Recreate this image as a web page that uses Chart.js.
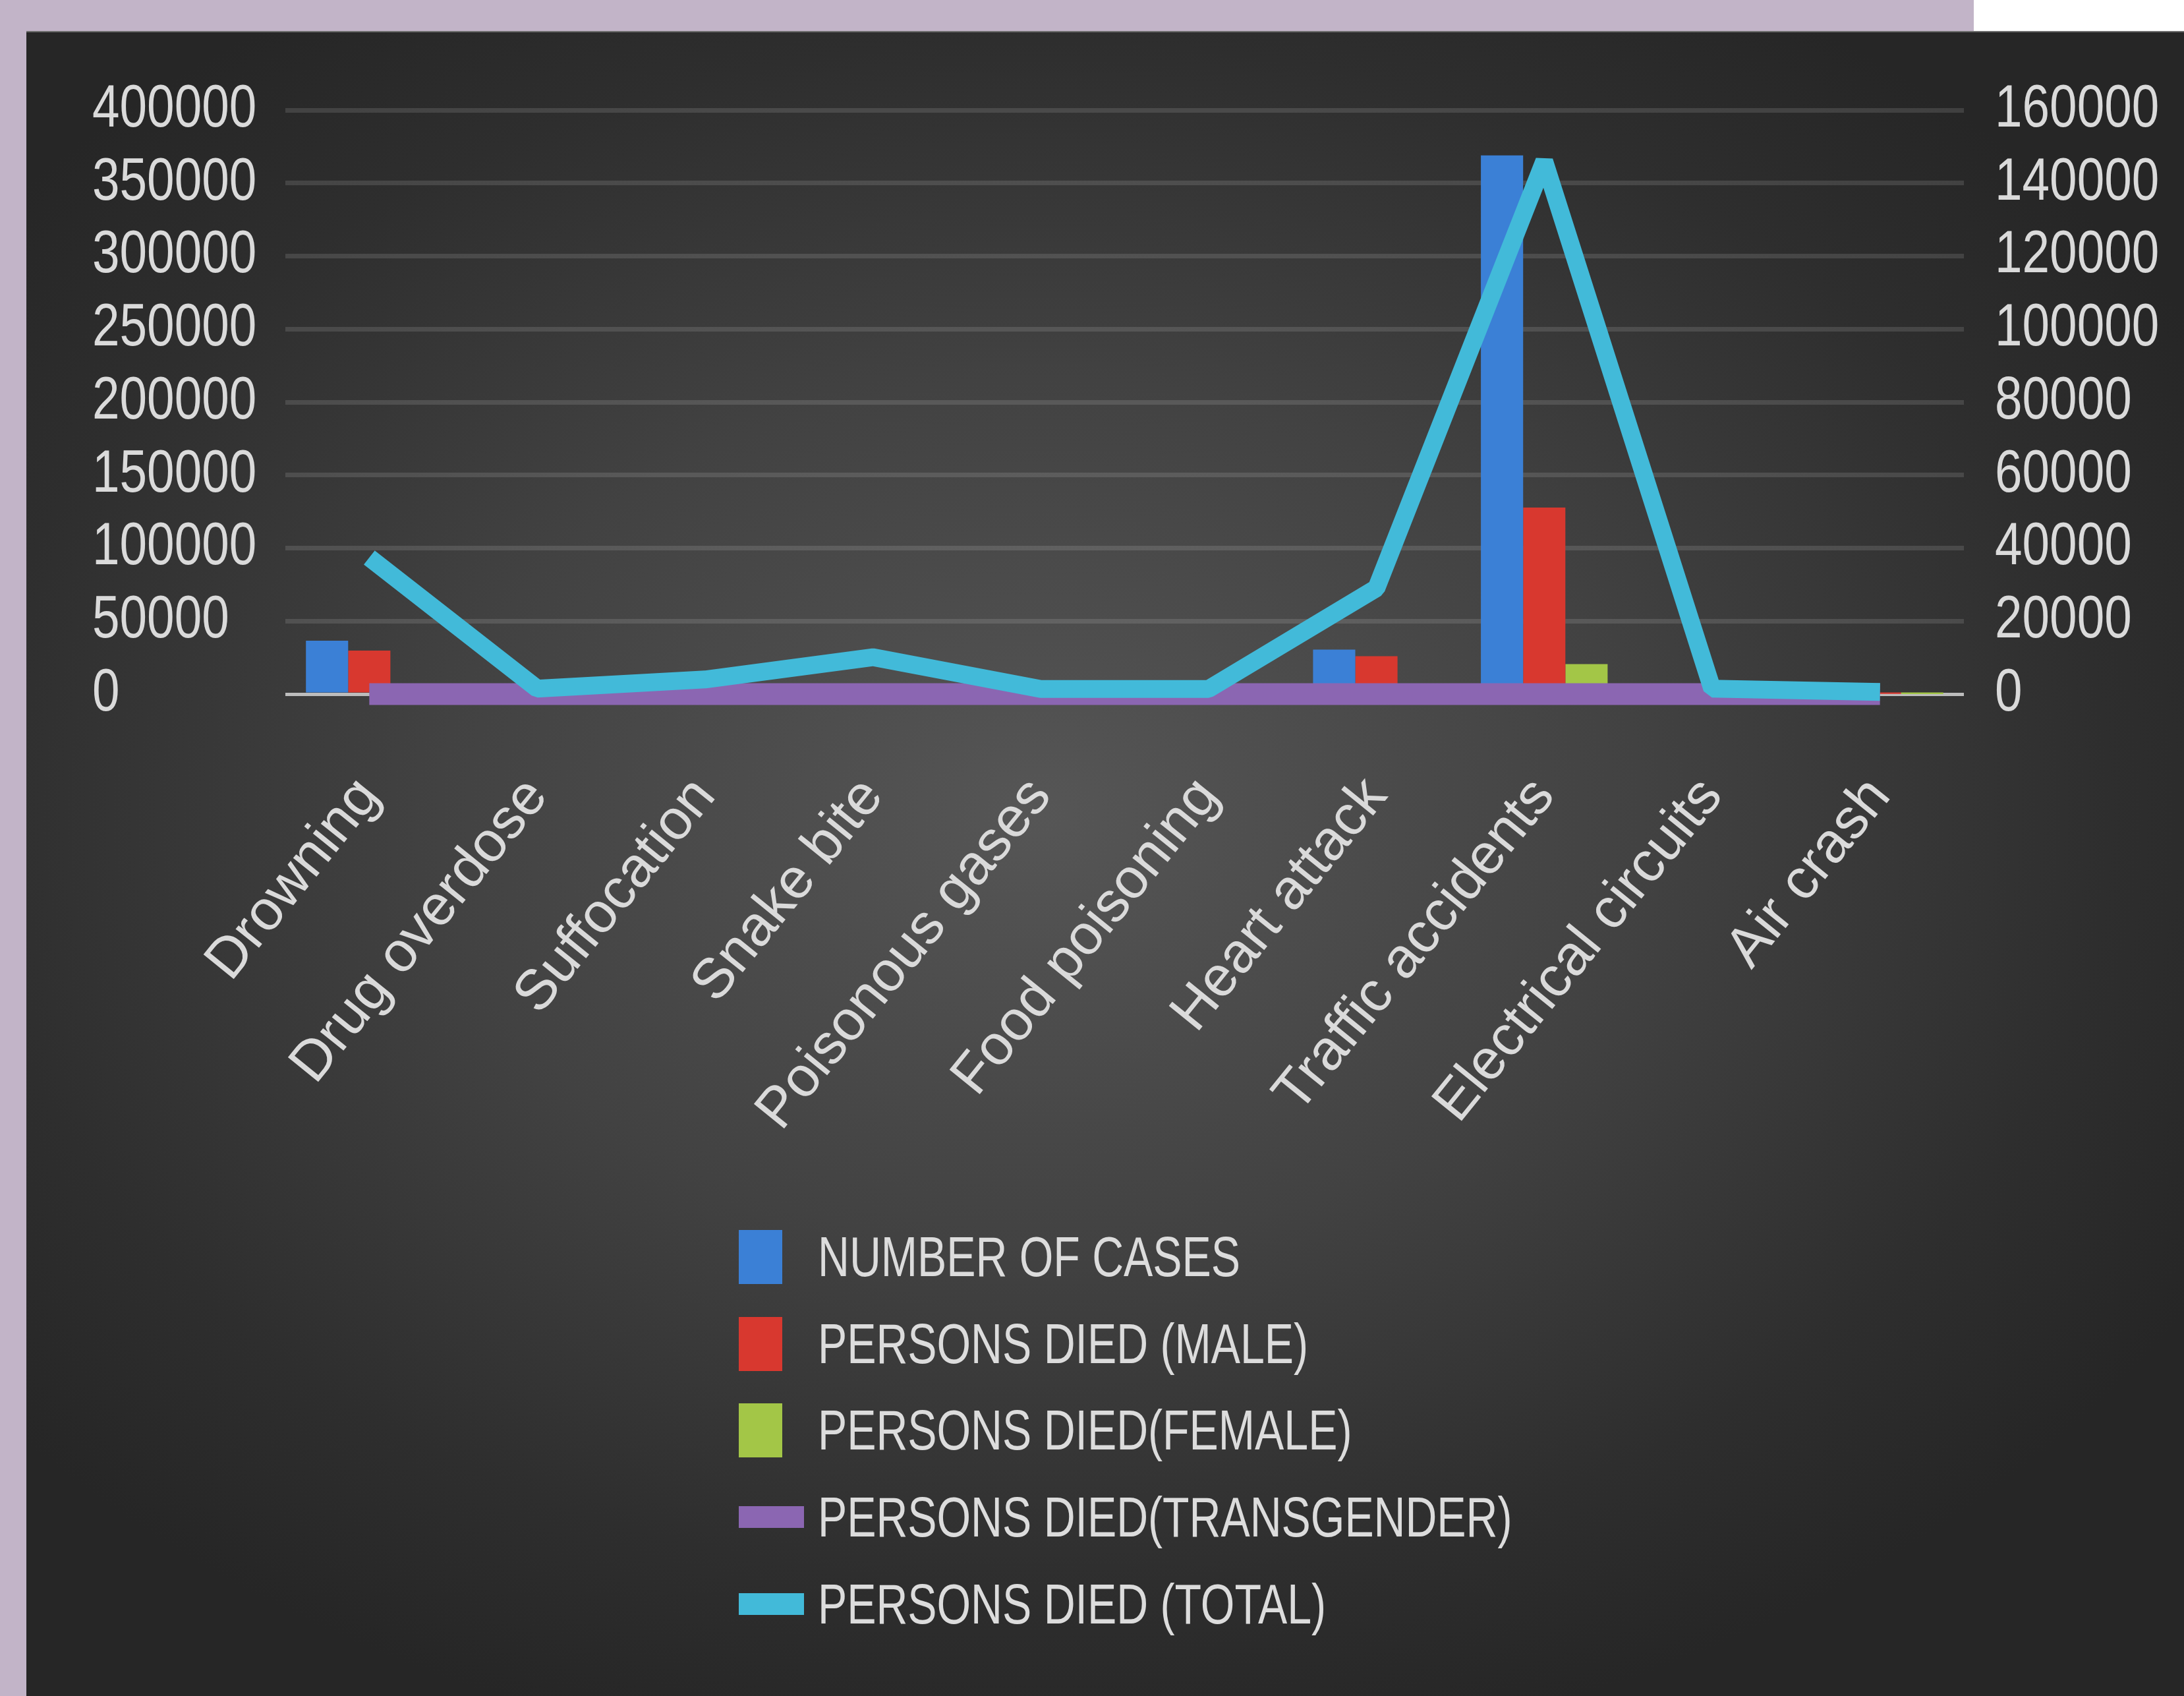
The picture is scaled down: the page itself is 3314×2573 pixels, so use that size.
<!DOCTYPE html>
<html>
<head>
<meta charset="utf-8">
<script src="https://cdn.jsdelivr.net/npm/chart.js@4.4.1/dist/chart.umd.min.js"></script>
<style>
  html, body { margin: 0; padding: 0; width: 3314px; height: 2573px; overflow: hidden; background: #c2b4c8; }
  #corner { position: absolute; left: 2995px; top: 0; width: 319px; height: 47px; background: #fff; }
  #panel {
    position: absolute; left: 40px; top: 47px; width: 3274px; height: 2526px;
    background: radial-gradient(ellipse 62% 58% at 47% 47%, #565656 0%, #424242 45%, #2e2e2e 80%, #262626 100%);
  }
  #topline { position: absolute; left: 0; top: 0; width: 3274px; height: 2px; background: #6c6c6c; }
  #chart { position: absolute; left: 0; top: 0; }
  #legend { position: absolute; left: 1081px; top: 1794px; }
  .row { display: flex; align-items: center; height: 131.7px; }
  .mark { width: 120px; display: flex; align-items: center; }
  .row span {
    font-family: "Liberation Sans", sans-serif; font-size: 85px; color: #dcdcdc;
    white-space: nowrap; display: inline-block; transform: scaleX(0.78); transform-origin: left center;
  }
</style>
</head>
<body>
<div id="corner"></div>
<div id="panel">
  <div id="topline"></div>
  <canvas id="chart" width="3274" height="1750"></canvas>
  <div id="legend"></div>
</div>
<script>
// categories & values
const categories = ["Drowning", "Drug overdose", "Suffocation", "Snake bite", "Poisonous gases",
  "Food poisoning", "Heart attack", "Traffic accidents", "Electrical circuits", "Air crash"];
const numberOfCases = [36600, 3000, 4000, 6500, 1000, 1500, 30500, 369000, 5000, 100];
const diedMale      = [29800, 1200, 3000, 6000, 1100, 1000, 26000, 127800, 1200, 60];
const diedFemale    = [6000, 300, 1000, 4000, 300, 400, 3000, 20500, 300, 20];
const diedTrans     = [0, 0, 0, 0, 0, 0, 0, 0, 0, 0];
const diedTotal     = [37400, 1500, 4000, 10100, 1400, 1400, 29000, 146000, 1500, 600];

const seriesNames = ["NUMBER OF CASES", "PERSONS DIED (MALE)", "PERSONS DIED(FEMALE)",
  "PERSONS DIED(TRANSGENDER)", "PERSONS DIED (TOTAL)"];
const seriesColors = ["#3b80d6", "#d8382f", "#a3c647", "#8b66b2", "#42bad9"];

const tickColor = "#dadada";
const tickFont = { family: "'Liberation Sans', sans-serif", size: 90 };
const SQUEEZE = 0.83; // the tick numbers in the picture are narrow

// draw the y tick labels a bit condensed, no clipping
const squeezeTicks = {
  id: "squeezeTicks",
  beforeDraw(chart) {
    ["y", "y1"].forEach(id => {
      const sc = chart.scales[id];
      if (!sc || sc._squeezed) return;
      sc._squeezed = true;
      const orig = sc.drawLabels;
      sc._computeLabelArea = () => undefined;
      sc.drawLabels = function (area) {
        const c = this.ctx;
        const x0 = this.position === "left" ? this.left : this.left + this.options.ticks.padding;
        c.save();
        c.translate(x0, 0);
        c.scale(SQUEEZE, 1);
        c.translate(-x0, 0);
        orig.call(this, area);
        c.restore();
      };
    });
  }
};

const ctx = document.getElementById("chart").getContext("2d");

const barCommon = { yAxisID: "y", categoryPercentage: 0.755, barPercentage: 1.0, order: 3 };

const chart = new Chart(ctx, {
  type: "bar",
  data: {
    labels: categories,
    datasets: [
      { ...barCommon, label: seriesNames[0], data: numberOfCases, backgroundColor: seriesColors[0] },
      { ...barCommon, label: seriesNames[1], data: diedMale, backgroundColor: seriesColors[1] },
      { ...barCommon, label: seriesNames[2], data: diedFemale, backgroundColor: seriesColors[2] },
      {
        type: "line", label: seriesNames[3], data: diedTrans, yAxisID: "y1", order: 2, clip: false,
        borderColor: seriesColors[3], backgroundColor: seriesColors[3],
        borderWidth: 33, pointRadius: 0, tension: 0, fill: false, borderCapStyle: "butt"
      },
      {
        type: "line", label: seriesNames[4], data: diedTotal, yAxisID: "y1", order: 1, clip: false,
        borderColor: seriesColors[4], backgroundColor: seriesColors[4],
        borderWidth: 27, pointRadius: 0, tension: 0, fill: false,
        borderCapStyle: "butt", borderJoinStyle: "bevel"
      }
    ]
  },
  options: {
    responsive: false,
    animation: false,
    layout: { padding: { left: 100, top: 120, right: 0, bottom: 0 } },
    plugins: { legend: { display: false }, tooltip: { enabled: false } },
    scales: {
      x: {
        grid: { display: false },
        border: { display: false },
        ticks: {
          color: tickColor, autoSkip: false, minRotation: 51, maxRotation: 51, padding: 100,
          font: { family: "'Liberation Sans', sans-serif", size: 86 }
        },
        afterFit: s => { s.height = 744; }
      },
      y: {
        position: "left", min: 0, max: 400000,
        border: { display: false },
        grid: {
          drawTicks: false,
          color: c => c.tick && c.tick.value === 0 ? "#bdbdbd" : "rgba(255,255,255,0.12)",
          lineWidth: c => c.tick && c.tick.value === 0 ? 5 : 7
        },
        ticks: {
          stepSize: 50000, autoSkip: false, crossAlign: "far", color: tickColor,
          font: tickFont,
          callback: v => String(v)
        },
        afterFit: s => { s.width = 293; }
      },
      y1: {
        position: "right", min: 0, max: 160000,
        border: { display: false },
        grid: { display: false, drawTicks: false },
        ticks: {
          stepSize: 20000, autoSkip: false, padding: 47, color: tickColor,
          font: tickFont,
          callback: v => String(v)
        },
        afterFit: s => { s.width = 334; }
      }
    }
  },
  plugins: [squeezeTicks]
});

// legend as html, one item per line
const legend = document.getElementById("legend");
chart.data.datasets.forEach(ds => {
  const row = document.createElement("div");
  row.className = "row";
  const mark = document.createElement("div");
  mark.className = "mark";
  const sw = document.createElement("div");
  sw.style.background = ds.borderColor || ds.backgroundColor;
  if (ds.type === "line") { sw.style.width = "99px"; sw.style.height = "33px"; }
  else { sw.style.width = "66px"; sw.style.height = "82px"; }
  mark.appendChild(sw);
  const txt = document.createElement("span");
  txt.textContent = ds.label;
  row.appendChild(mark);
  row.appendChild(txt);
  legend.appendChild(row);
});
</script>
</body>
</html>
